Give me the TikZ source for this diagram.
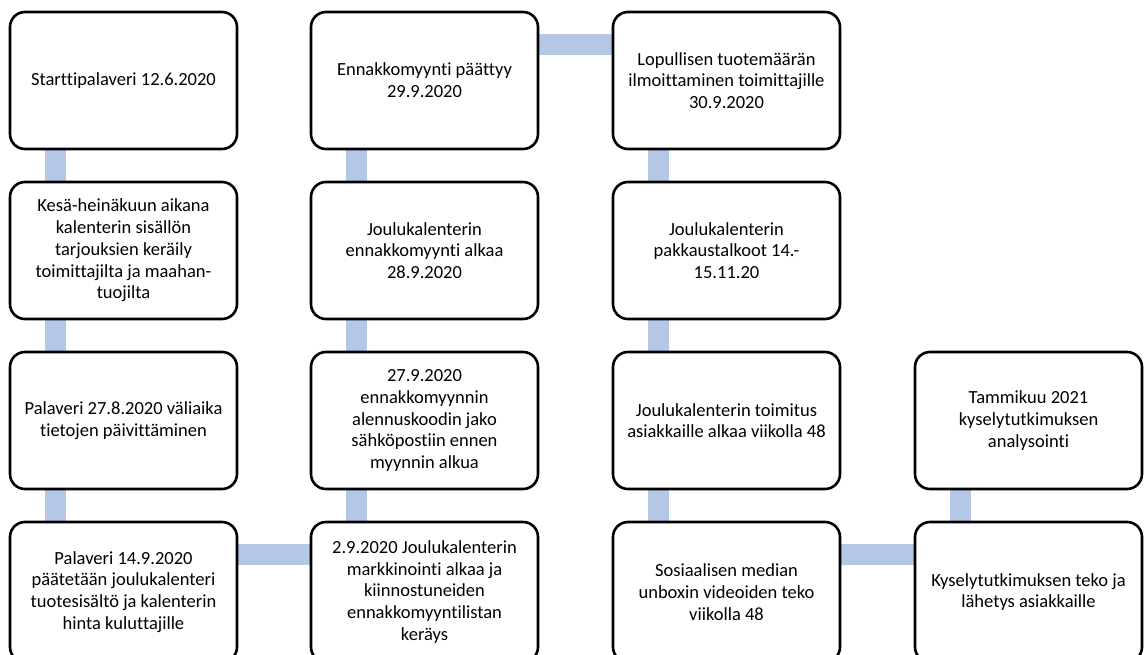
\documentclass[tikz,border=0pt]{standalone}
\usepackage{fontspec}
\setmainfont[Ligatures=NoCommon]{Carlito}
\usetikzlibrary{backgrounds,calc}
\definecolor{barblue}{HTML}{B4C7E7}
\tikzset{
  stage/.style={draw=black, line width=2.6pt, fill=white, rounded corners=15pt,
    minimum width=227pt, minimum height=137pt, inner sep=2pt, align=center,
    font=\fontsize{18.5pt}{21.7pt}\selectfont},
  lowstage/.style={stage, minimum height=140pt},
  bar/.style={draw=barblue, line width=21pt, line cap=butt}
}
\begin{document}
\begin{tikzpicture}[x=1pt,y=-1pt]
\useasboundingbox (0,0) rectangle (1144,655);
% columns: left 10, 311, 613, 915 ; width 227 ; rows: top 12,182,352,522
\node[stage] (n1) at (123.5,80.5) {Starttipalaveri 12.6.2020};
\node[stage] (n2) at (123.5,250.5) {Kesä-heinäkuun aikana\\kalenterin sisällön\\tarjouksien keräily\\toimittajilta ja maahan-\\tuojilta};
\node[stage] (n3) at (123.5,420.5) {Palaveri 27.8.2020 väliaika\\tietojen päivittäminen};
\node[lowstage] (n4) at (123.5,592) {Palaveri 14.9.2020\\päätetään joulukalenteri\\tuotesisältö ja kalenterin\\hinta kuluttajille};
\node[lowstage] (n5) at (424.5,592) {2.9.2020 Joulukalenterin\\markkinointi alkaa ja\\kiinnostuneiden\\ennakkomyyntilistan\\keräys};
\node[stage] (n6) at (424.5,420.5) {27.9.2020\\ennakkomyynnin\\alennuskoodin jako\\sähköpostiin ennen\\myynnin alkua};
\node[stage] (n7) at (424.5,250.5) {Joulukalenterin\\ennakkomyynti alkaa\\28.9.2020};
\node[stage] (n8) at (424.5,80.5) {Ennakkomyynti päättyy\\29.9.2020};
\node[stage] (n9) at (726.5,80.5) {Lopullisen tuotemäärän\\ilmoittaminen toimittajille\\30.9.2020};
\node[stage] (n10) at (726.5,250.5) {Joulukalenterin\\pakkaustalkoot 14.-\\15.11.20};
\node[stage] (n11) at (726.5,420.5) {Joulukalenterin toimitus\\asiakkaille alkaa viikolla 48};
\node[lowstage] (n12) at (726.5,592) {Sosiaalisen median\\unboxin videoiden teko\\viikolla 48};
\node[lowstage] (n13) at (1028.5,592) {Kyselytutkimuksen teko ja\\lähetys asiakkaille};
\node[stage] (n14) at (1028.5,420.5) {Tammikuu 2021\\kyselytutkimuksen\\analysointi};
\begin{scope}[on background layer]
  % vertical bars
  \foreach \a/\b in {n1/n2,n2/n3,n3/n4,n8/n7,n7/n6,n6/n5,n9/n10,n10/n11,n11/n12,n14/n13}{
    \draw[bar] ($(\a.south west)+(46.5,-2)$) -- ($(\b.north west)+(46.5,2)$);
  }
  % horizontal bars
  \foreach \a/\b in {n4/n5,n8/n9,n12/n13}{
    \draw[bar] ($(\a.north east)+(-2,34)$) -- ($(\b.north west)+(2,34)$);
  }
\end{scope}
\end{tikzpicture}
\end{document}
